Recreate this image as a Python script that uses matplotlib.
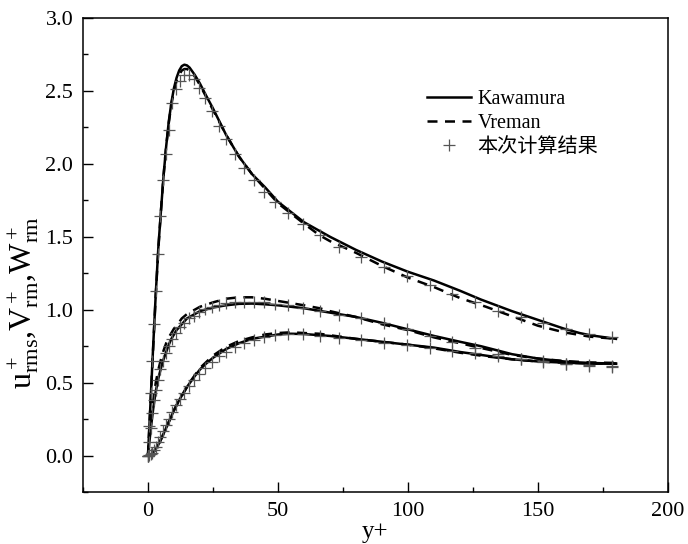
import numpy as np
import matplotlib
matplotlib.use("Agg")
import matplotlib.pyplot as plt
from matplotlib.ticker import MultipleLocator
from matplotlib.lines import Line2D

plt.rcParams['font.family'] = ['Liberation Serif', 'Noto Sans CJK SC']
plt.rcParams['mathtext.fontset'] = 'custom'
plt.rcParams['mathtext.rm'] = 'Liberation Serif'
plt.rcParams['mathtext.it'] = 'Liberation Serif'
plt.rcParams['mathtext.bf'] = 'Liberation Serif:bold'

# Kawamura (solid)
yk = [0, 1, 2, 3, 4, 5, 6, 7, 8, 9, 10, 11, 12, 13, 14, 15, 16, 18, 20, 22, 25,
      30, 35, 40, 45, 50, 55, 60, 70, 80, 90, 100, 110, 120, 128, 140, 150, 160,
      166, 170, 180]
u_k = [0, 0.37, 0.75, 1.11, 1.43, 1.68, 1.92, 2.12, 2.29, 2.42, 2.52, 2.59, 2.64,
       2.67, 2.68, 2.675, 2.66, 2.61, 2.55, 2.48, 2.38, 2.20, 2.05, 1.93, 1.84,
       1.74, 1.67, 1.60, 1.50, 1.41, 1.33, 1.26, 1.20, 1.13, 1.07, 0.99, 0.93,
       0.87, 0.84, 0.825, 0.80]
w_k = [0, 0.17, 0.32, 0.44, 0.53, 0.60, 0.66, 0.71, 0.76, 0.80, 0.83, 0.86, 0.88,
       0.90, 0.92, 0.94, 0.95, 0.97, 0.99, 1.00, 1.015, 1.03, 1.04, 1.042, 1.037,
       1.03, 1.02, 1.01, 0.98, 0.95, 0.91, 0.865, 0.82, 0.78, 0.75, 0.695, 0.665,
       0.645, 0.638, 0.635, 0.63]
v_k = [0, 0.005, 0.02, 0.045, 0.075, 0.11, 0.15, 0.19, 0.23, 0.27, 0.31, 0.345,
       0.38, 0.41, 0.44, 0.47, 0.495, 0.545, 0.59, 0.625, 0.67, 0.73, 0.77, 0.80,
       0.815, 0.83, 0.835, 0.833, 0.82, 0.80, 0.78, 0.76, 0.74, 0.71, 0.69, 0.66,
       0.645, 0.637, 0.633, 0.63, 0.63]

# Vreman (dashed)
yv = [0, 1, 2, 3, 4, 5, 6, 7, 8, 9, 10, 11, 12, 13, 14, 15, 16, 18, 20, 25, 30,
      35, 40, 45, 50, 55, 60, 66, 70, 80, 90, 100, 110, 120, 130, 140, 150, 160,
      170, 180]
u_v = [0, 0.37, 0.74, 1.10, 1.42, 1.68, 1.92, 2.12, 2.28, 2.41, 2.50, 2.57, 2.61,
       2.64, 2.65, 2.65, 2.64, 2.60, 2.54, 2.37, 2.20, 2.05, 1.93, 1.83, 1.73,
       1.66, 1.59, 1.51, 1.47, 1.39, 1.30, 1.22, 1.155, 1.08, 1.02, 0.955, 0.89,
       0.845, 0.815, 0.80]
w_v = [0, 0.20, 0.37, 0.50, 0.59, 0.66, 0.72, 0.77, 0.81, 0.84, 0.87, 0.89, 0.915,
       0.94, 0.955, 0.97, 0.98, 1.00, 1.02, 1.05, 1.075, 1.085, 1.085, 1.075,
       1.06, 1.045, 1.03, 1.01, 0.99, 0.95, 0.90, 0.86, 0.81, 0.77, 0.73, 0.69,
       0.665, 0.648, 0.638, 0.635]
v_v = [0, 0.005, 0.02, 0.045, 0.075, 0.11, 0.15, 0.19, 0.23, 0.27, 0.31, 0.345,
       0.38, 0.41, 0.44, 0.47, 0.50, 0.55, 0.60, 0.685, 0.745, 0.785, 0.81, 0.83,
       0.84, 0.845, 0.84, 0.835, 0.825, 0.80, 0.78, 0.76, 0.735, 0.705, 0.68,
       0.66, 0.645, 0.637, 0.632, 0.63]

# present computation (+ markers)
yc = [0, 0.5, 1.1, 1.7, 2.4, 3.1, 3.9, 4.8, 5.8, 6.9, 8.1, 9.4, 10.8, 12.3, 13.9,
      15.7, 17.6, 19.7, 22.0, 24.5, 27.2, 30.1, 33.3, 36.8, 40.6, 44.6, 49.0,
      54.0, 59.6, 66.0, 73.5, 82.0, 90.7, 99.5, 108.3, 117.0, 125.8, 134.5,
      143.3, 152.0, 160.8, 169.6, 178.5]
u_c = [0, 0.20, 0.43, 0.65, 0.90, 1.13, 1.38, 1.64, 1.89, 2.07, 2.23, 2.42, 2.51,
       2.57, 2.61, 2.61, 2.58, 2.52, 2.45, 2.36, 2.26, 2.17, 2.07, 1.97, 1.89,
       1.81, 1.74, 1.66, 1.59, 1.51, 1.43, 1.36, 1.29, 1.23, 1.17, 1.11, 1.05,
       0.99, 0.95, 0.91, 0.87, 0.835, 0.815]
w_c = [0, 0.09, 0.19, 0.29, 0.38, 0.45, 0.52, 0.59, 0.65, 0.70, 0.75, 0.80, 0.84,
       0.88, 0.91, 0.94, 0.96, 0.985, 1.005, 1.02, 1.035, 1.045, 1.05, 1.055,
       1.055, 1.05, 1.04, 1.03, 1.01, 0.99, 0.965, 0.94, 0.91, 0.87, 0.82, 0.78,
       0.74, 0.695, 0.665, 0.645, 0.63, 0.62, 0.615]
v_c = [0, 0.003, 0.01, 0.02, 0.04, 0.06, 0.09, 0.125, 0.165, 0.21, 0.25, 0.30,
       0.345, 0.39, 0.43, 0.475, 0.52, 0.56, 0.60, 0.64, 0.68, 0.71, 0.745, 0.77,
       0.795, 0.81, 0.825, 0.83, 0.83, 0.82, 0.805, 0.79, 0.775, 0.76, 0.74,
       0.72, 0.70, 0.68, 0.66, 0.64, 0.625, 0.615, 0.61]

fig = plt.figure(figsize=(6.88, 5.44), dpi=100)
ax = fig.add_axes([0.1206, 0.0956, 0.8503, 0.8713])

lw = 1.8
for s in [u_k, w_k, v_k]:
    ax.plot(yk, s, color='black', lw=lw)
for s in [u_v, w_v, v_v]:
    ax.plot(yv, s, color='black', lw=lw, dashes=(4, 3))
for s in [u_c, w_c, v_c]:
    ax.plot(yc, s, ls='none', marker='+', ms=9, mew=0.9, color='#555555')

ax.set_xlim(-25, 200)
ax.set_ylim(-0.25, 3.0)
ax.xaxis.set_major_locator(MultipleLocator(50))
ax.xaxis.set_minor_locator(MultipleLocator(25))
ax.yaxis.set_major_locator(MultipleLocator(0.5))
ax.yaxis.set_minor_locator(MultipleLocator(0.25))
ax.xaxis.set_major_formatter(matplotlib.ticker.FormatStrFormatter('%d'))
ax.yaxis.set_major_formatter(matplotlib.ticker.FormatStrFormatter('%.1f'))
ax.tick_params(which='both', direction='in', top=False, right=False,
               labelsize=16, width=1.0, pad=7)
ax.tick_params(which='major', length=7)
ax.tick_params(which='minor', length=3.5)
for sp in ax.spines.values():
    sp.set_linewidth(1.1)

ax.set_xlabel('y+', fontsize=18, labelpad=0)
ax.set_ylabel(r'$\mathrm{u^+_{rms}{,}V^+_{rm}{,}W^+_{rm}}$', fontsize=23)
ax.yaxis.set_label_coords(-0.072, 0.40)

handles = [Line2D([], [], color='black', lw=lw),
           Line2D([], [], color='black', lw=lw, dashes=(4, 3)),
           Line2D([], [], ls='none', marker='+', ms=9, mew=0.9, color='#555555')]
fig.legend(handles, ['Kawamura', 'Vreman', '本次计算结果'], loc='upper left',
           bbox_to_anchor=(0.6206, 0.835), frameon=False, fontsize=14.5,
           handlelength=2.2, handletextpad=0.3, labelspacing=0.25,
           borderpad=0, borderaxespad=0)

fig.savefig('out.png', dpi=100)
